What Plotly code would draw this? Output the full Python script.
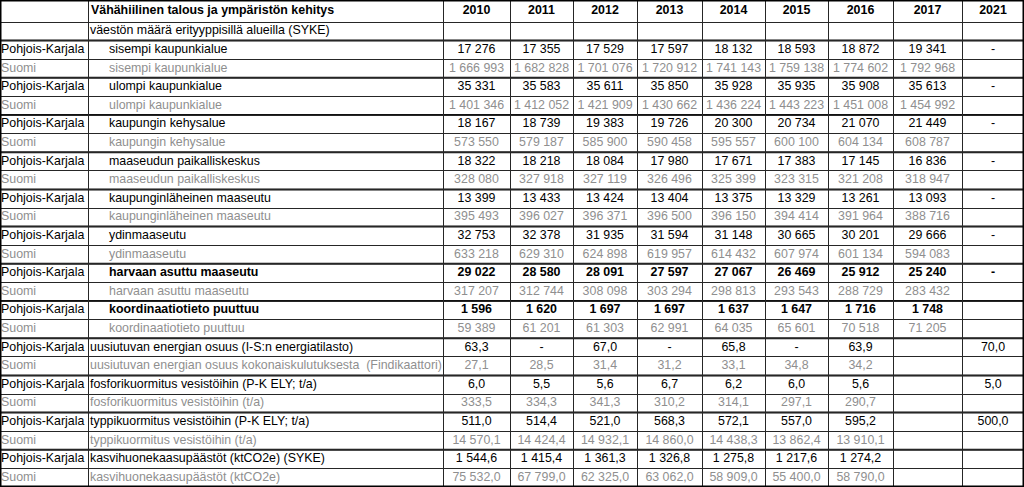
import plotly.graph_objects as go

# column headers
title = "Vähähiilinen talous ja ympäristön kehitys"
years = ["2010", "2011", "2012", "2013", "2014", "2015", "2016", "2017", "2021"]
subtitle = "väestön määrä erityyppisillä alueilla (SYKE)"

# population by area type, 2010-2017 (Pohjois-Karjala / Suomi)
areas = ["sisempi kaupunkialue", "ulompi kaupunkialue", "kaupungin kehysalue",
         "maaseudun paikalliskeskus", "kaupunginläheinen maaseutu", "ydinmaaseutu",
         "harvaan asuttu maaseutu", "koordinaatiotieto puuttuu"]
pk_pop = [
    [17276, 17355, 17529, 17597, 18132, 18593, 18872, 19341],
    [35331, 35583, 35611, 35850, 35928, 35935, 35908, 35613],
    [18167, 18739, 19383, 19726, 20300, 20734, 21070, 21449],
    [18322, 18218, 18084, 17980, 17671, 17383, 17145, 16836],
    [13399, 13433, 13424, 13404, 13375, 13329, 13261, 13093],
    [32753, 32378, 31935, 31594, 31148, 30665, 30201, 29666],
    [29022, 28580, 28091, 27597, 27067, 26469, 25912, 25240],
    [1596, 1620, 1697, 1697, 1637, 1647, 1716, 1748],
]
pk_pop_2021 = ["-", "-", "-", "-", "-", "-", "-", None]
fi_pop = [
    [1666993, 1682828, 1701076, 1720912, 1741143, 1759138, 1774602, 1792968],
    [1401346, 1412052, 1421909, 1430662, 1436224, 1443223, 1451008, 1454992],
    [573550, 579187, 585900, 590458, 595557, 600100, 604134, 608787],
    [328080, 327918, 327119, 326496, 325399, 323315, 321208, 318947],
    [395493, 396027, 396371, 396500, 396150, 394414, 391964, 388716],
    [633218, 629310, 624898, 619957, 614432, 607974, 601134, 594083],
    [317207, 312744, 308098, 303294, 298813, 293543, 288729, 283432],
    [59389, 61201, 61303, 62991, 64035, 65601, 70518, 71205],
]
bold_areas = ["harvaan asuttu maaseutu", "koordinaatiotieto puuttuu"]

# other indicators: 2010..2017 + 2021 target
ind_pk_labels = ["uusiutuvan energian osuus (I-S:n energiatilasto)",
                 "fosforikuormitus vesistöihin (P-K ELY; t/a)",
                 "typpikuormitus vesistöihin (P-K ELY; t/a)",
                 "kasvihuonekaasupäästöt (ktCO2e) (SYKE)"]
ind_fi_labels = ["uusiutuvan energian osuus kokonaiskulutuksesta\u00a0 (Findikaattori)",
                 "fosforikuormitus vesistöihin (t/a)",
                 "typpikuormitus vesistöihin (t/a)",
                 "kasvihuonekaasupäästöt (ktCO2e)"]
pk_renewable = [63.3, "-", 67.0, "-", 65.8, "-", 63.9, None, 70.0]
fi_renewable = [27.1, 28.5, 31.4, 31.2, 33.1, 34.8, 34.2, None, None]
pk_phosphorus = [6.0, 5.5, 5.6, 6.7, 6.2, 6.0, 5.6, None, 5.0]
fi_phosphorus = [333.5, 334.3, 341.3, 310.2, 314.1, 297.1, 290.7, None, None]
pk_nitrogen = [511.0, 514.4, 521.0, 568.3, 572.1, 557.0, 595.2, None, 500.0]
fi_nitrogen = [14570.1, 14424.4, 14932.1, 14860.0, 14438.3, 13862.4, 13910.1, None, None]
pk_ghg = [1544.6, 1415.4, 1361.3, 1326.8, 1275.8, 1217.6, 1274.2, None, None]
fi_ghg = [75532.0, 67799.0, 62325.0, 63062.0, 58909.0, 55400.0, 58790.0, None, None]

BLACK = "#000000"
GREY = "#8f8f8f"
LINE = "#262626"
FONT = "Liberation Sans, Arial, sans-serif"


def fmt(v):
    if v is None:
        return ""
    if isinstance(v, str):
        return v
    if isinstance(v, int):
        return f"{v:,}".replace(",", " ")
    return f"{v:,.1f}".replace(",", " ").replace(".", ",")


# table rows: (region, label, values, colour, bold, indented)
rows = [("", subtitle, [None] * 9, BLACK, False, False)]
for i, a in enumerate(areas):
    b = a in bold_areas
    rows.append(("Pohjois-Karjala", a, pk_pop[i] + [pk_pop_2021[i]], BLACK, b, True))
    rows.append(("Suomi", a, fi_pop[i] + [None], GREY, False, True))
pk_ind = [pk_renewable, pk_phosphorus, pk_nitrogen, pk_ghg]
fi_ind = [fi_renewable, fi_phosphorus, fi_nitrogen, fi_ghg]
for i in range(4):
    rows.append(("Pohjois-Karjala", ind_pk_labels[i], pk_ind[i], BLACK, False, False))
    rows.append(("Suomi", ind_fi_labels[i], fi_ind[i], GREY, False, False))

# geometry (pixels)
W, H = 1024, 487
col_w = [88, 355, 67, 63, 64, 65, 63, 63, 65, 69, 62]
col_edges = [0]
for w in col_w:
    col_edges.append(col_edges[-1] + w)
head_h = 22
row_h = (H - head_h) / len(rows)
row_edges = [0, head_h] + [head_h + row_h * (k + 1) for k in range(len(rows))]
centers = [(col_edges[j] + col_edges[j + 1]) / 2 for j in range(len(col_w))]

lx, ly, lt, lc = [], [], [], []
cx, cy, ct, cc = [], [], [], []

# header
lx.append(col_edges[1] + 3); ly.append(head_h / 2); lt.append("<b>" + title + "</b>"); lc.append(BLACK)
for j, y in enumerate(years):
    cx.append(centers[2 + j]); cy.append(head_h / 2); ct.append("<b>" + y + "</b>"); cc.append(BLACK)

for k, (region, label, vals, col, b, ind) in enumerate(rows):
    yc = (row_edges[k + 1] + row_edges[k + 2]) / 2
    wrap = (lambda s: "<b>" + s + "</b>") if b else (lambda s: s)
    if region:
        lx.append(col_edges[0] + 1); ly.append(yc); lt.append(region); lc.append(col)
    lx.append(col_edges[1] + (21 if ind else 2)); ly.append(yc); lt.append(wrap(label)); lc.append(col)
    for j, v in enumerate(vals):
        s = fmt(v)
        if s:
            cx.append(centers[2 + j]); cy.append(yc); ct.append(wrap(s)); cc.append(col)

fig = go.Figure()
fig.add_trace(go.Scatter(x=lx, y=ly, text=lt, mode="text", textposition="middle right",
                         textfont=dict(family=FONT, size=12.4, color=lc), hoverinfo="skip"))
fig.add_trace(go.Scatter(x=cx, y=cy, text=ct, mode="text", textposition="middle center",
                         textfont=dict(family=FONT, size=12.4, color=cc), hoverinfo="skip"))

# thicker separators above each Pohjois-Karjala row
shapes = []
for k, r in enumerate(rows):
    if r[0] == "Pohjois-Karjala":
        yb = row_edges[k + 1]
        shapes.append(dict(type="line", xref="x", yref="y", x0=0, x1=W, y0=yb, y1=yb,
                           line=dict(color="#111111", width=2), layer="below"))
shapes.append(dict(type="rect", xref="paper", yref="paper", x0=0, x1=1, y0=0, y1=1,
                   line=dict(color="#000000", width=3)))

fig.update_layout(
    width=W, height=H, margin=dict(l=0, r=0, t=0, b=0),
    paper_bgcolor="white", plot_bgcolor="white", showlegend=False,
    xaxis=dict(range=[0, W], tickvals=col_edges, showgrid=True, gridcolor=LINE, gridwidth=1,
               showticklabels=False, ticks="", zeroline=False, fixedrange=True),
    yaxis=dict(range=[H, 0], tickvals=row_edges, showgrid=True, gridcolor=LINE, gridwidth=1,
               showticklabels=False, ticks="", zeroline=False, fixedrange=True),
    shapes=shapes,
)
fig.write_html("out.html", config={"displayModeBar": False},
               post_script="document.body.style.margin='0';document.body.style.overflow='hidden';")
